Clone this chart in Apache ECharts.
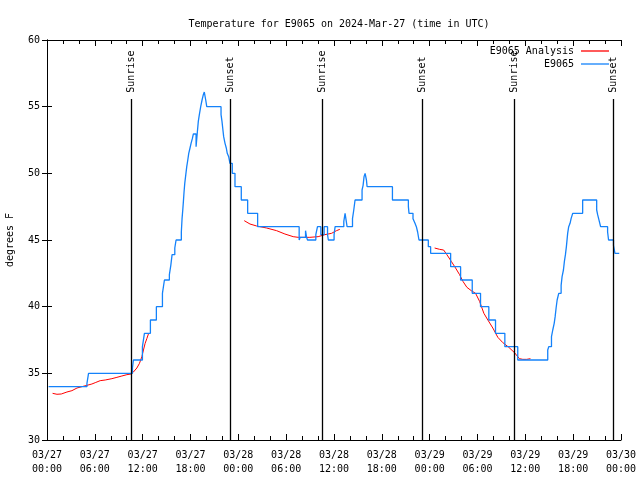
<!DOCTYPE html>
<html>
<head>
<meta charset="utf-8">
<script src="https://cdn.jsdelivr.net/npm/echarts@6/dist/echarts.min.js"></script>
<style>html,body{margin:0;padding:0;background:#fff}#c{width:640px;height:480px}</style>
</head>
<body>
<div id="c"></div>
<script>
// Hours since 03/27 00:00 UTC
const xTickLabels = ['03/27\n00:00','03/27\n06:00','03/27\n12:00','03/27\n18:00','03/28\n00:00','03/28\n06:00','03/28\n12:00','03/28\n18:00','03/29\n00:00','03/29\n06:00','03/29\n12:00','03/29\n18:00','03/30\n00:00'];
const yTickLabels = ['30','35','40','45','50','55','60'];

// E9065 observed (each point = start of a level)
const obsHours = [0.20,5.01,5.21,10.72,10.84,11.97,12.22,12.97,13.72,14.48,14.73,15.35,15.53,15.69,16.03,16.19,16.85,16.94,17.03,17.11,17.19,17.28,17.41,17.53,17.66,17.78,17.94,18.07,18.23,18.36,18.70,18.86,18.98,19.11,19.28,19.45,19.61,19.73,19.91,20.04,21.83,21.95,22.04,22.16,22.33,22.49,22.61,22.79,22.95,23.24,23.58,24.37,25.17,26.42,31.63,31.76,32.43,32.56,32.68,33.72,33.93,34.35,34.76,35.19,35.29,36.01,36.14,37.23,37.39,37.54,37.64,38.32,38.48,38.64,39.52,39.65,39.77,39.90,40.07,40.15,43.33,45.33,45.41,45.91,46.16,46.33,46.49,46.66,47.83,48.12,50.63,51.88,53.34,54.38,55.42,56.26,57.43,59.05,62.81,62.94,63.28,63.44,63.62,63.74,63.86,63.99,64.19,64.49,64.61,64.78,64.90,65.03,65.15,65.31,65.44,65.61,65.74,65.94,67.19,68.95,69.07,69.28,69.44,70.32,70.44,71.06,71.24,71.78];
const obsTemps = [34,34.25,35,35.4,36,37,38,39,40,41,42,42.4,43.1,43.9,44.4,45,45.6,46.6,47.25,47.9,48.6,49.25,49.9,50.5,51,51.5,51.9,52.25,52.6,52.95,52,53.1,53.9,54.4,55,55.5,55.9,56.1,55.5,55,54.4,53.9,53.4,52.75,52.25,51.9,51.5,51.25,50.75,50,49,48,47,46,45,45.2,45.7,45.2,45,45.4,46,45.4,46,45.4,45,45.4,46,46.4,47,46.4,46,46.6,47.25,48,48.75,49.1,49.75,50,49.5,49,48,47.5,47,46.6,46.25,46,45.6,45,44.5,44,43,42,41,40,39,38,37,36,36.75,37,37.75,38.25,38.75,39.25,39.9,40.5,41,41.6,42.25,42.75,43.4,43.9,44.5,45.5,46,46.25,46.6,47,48,47.25,46.9,46.4,46,45.6,45,44.6,44,44];

// E9065 Analysis (null = gap between segments)
const anaHours = [0.70,1.25,1.79,2.50,3.13,3.76,4.38,5.01,5.63,6.05,6.67,7.30,8.14,8.77,9.39,10.02,10.56,10.84,11.27,11.60,11.90,12.10,12.31,12.52,12.72,
  18.0,
  24.74,25.46,26.30,27.55,28.80,29.84,30.88,31.51,32.97,34.01,34.85,35.69,36.31,36.73,
  42.0,
  48.62,49.25,49.75,50.16,50.71,51.25,51.75,52.17,52.67,53.22,53.76,54.26,54.80,55.30,55.92,56.55,57.18,57.93,58.64,59.26,59.68,60.18,60.64];
const anaTemps = [33.5,33.43,33.45,33.6,33.7,33.9,34.0,34.1,34.2,34.3,34.45,34.5,34.6,34.7,34.8,34.9,34.95,35.1,35.4,35.75,36.25,36.75,37.25,37.6,37.95,
  null,
  46.45,46.2,46.05,45.9,45.7,45.45,45.25,45.2,45.2,45.25,45.4,45.5,45.7,45.8,
  null,
  44.4,44.3,44.25,43.9,43.4,42.9,42.4,41.9,41.45,41.2,41.0,40.4,39.5,39.0,38.4,37.7,37.3,36.95,36.55,36.1,36.05,36.05,36.1];

// Sun events (hours)
const sunHours = [10.57, 23.0, 34.53, 47.08, 58.62, 71.09];
const sunNames = ['Sunrise','Sunset','Sunrise','Sunset','Sunrise','Sunset'];

const MONO = 'DejaVu Sans Mono';
const lineTop = 55.57, labelBase = 56.05;

const chart = echarts.init(document.getElementById('c'), null, {renderer:'canvas'});
const axisCommon = {
  axisLine:{show:true, lineStyle:{color:'#000', width:1}},
  splitLine:{show:false}
};
chart.setOption({
  animation:false,
  backgroundColor:'#fff',
  title:{text:'Temperature for E9065 on 2024-Mar-27 (time in UTC)', left:334, top:14, textAlign:'center',
    textStyle:{fontFamily:MONO, fontSize:10, fontWeight:'normal', color:'#000'}},
  legend:{data:[{name:'E9065 Analysis', icon:'rect'},{name:'E9065', icon:'rect'}], orient:'vertical', right:26, top:41, align:'right',
    itemWidth:28, itemHeight:1.3, itemGap:3, selectedMode:false,
    textStyle:{fontFamily:MONO, fontSize:10, color:'#000', padding:[0,2,0,0]}},
  grid:{left:47, right:19, top:40, bottom:40, containLabel:false, outerBoundsMode:'none'},
  xAxis:[
    Object.assign({type:'value', min:0, max:72, interval:6, position:'bottom',
      axisTick:{show:true, inside:true, length:6, lineStyle:{color:'#000'}},
      minorTick:{show:true, splitNumber:3, length:4, lineStyle:{color:'#000'}},
      axisLabel:{fontFamily:MONO, fontSize:10, color:'#000', lineHeight:14, margin:8,
        formatter:v=>xTickLabels[Math.round(v/6)]}}, axisCommon),
    Object.assign({type:'value', min:0, max:72, interval:6, position:'top',
      axisTick:{show:true, inside:true, length:6, lineStyle:{color:'#000'}},
      minorTick:{show:true, splitNumber:3, length:4, lineStyle:{color:'#000'}},
      axisLabel:{show:false}}, axisCommon)
  ],
  yAxis:[
    Object.assign({type:'value', min:30, max:60, interval:5, position:'left',
      name:'degrees F', nameLocation:'middle', nameRotate:90, nameGap:32,
      nameTextStyle:{fontFamily:MONO, fontSize:10, color:'#000'},
      axisTick:{show:true, inside:true, length:5, lineStyle:{color:'#000'}},
      axisLabel:{fontFamily:MONO, fontSize:10, color:'#000', margin:7,
        formatter:v=>yTickLabels[Math.round((v-30)/5)]}}, axisCommon),
    Object.assign({type:'value', min:30, max:60, interval:5, position:'right',
      axisTick:{show:true, inside:true, length:5, lineStyle:{color:'#000'}},
      axisLabel:{show:false}}, axisCommon)
  ],
  series:[
    {name:'E9065 Analysis', type:'line', xAxisIndex:0, yAxisIndex:0, symbol:'none', showSymbol:false,
      connectNulls:false, lineStyle:{color:'#ff0000', width:1}, itemStyle:{color:'#ff0000'},
      data:anaHours.map((h,i)=>[h, anaTemps[i]])},
    {name:'E9065', type:'line', xAxisIndex:0, yAxisIndex:0, symbol:'none', showSymbol:false, step:'end',
      lineStyle:{color:'#1482fa', width:1.3}, itemStyle:{color:'#1482fa'},
      data:obsHours.map((h,i)=>[h, obsTemps[i]])},
    {name:'sun', type:'scatter', xAxisIndex:0, yAxisIndex:0, symbolSize:1, itemStyle:{color:'#fff', opacity:0},
      silent:true,
      label:{show:true, position:'inside', rotate:90, align:'left', verticalAlign:'middle',
        fontFamily:MONO, fontSize:10, color:'#000', opacity:1, formatter:p=>p.data[2]},
      data:sunHours.map((h,i)=>[h, labelBase, sunNames[i]]),
      markLine:{silent:true, symbol:'none', label:{show:false},
        lineStyle:{color:'#000', width:1.3, type:'solid'},
        data:sunHours.map(h=>[{coord:[h, lineTop]},{coord:[h, 30]}])}}
  ]
});
</script>
</body>
</html>
